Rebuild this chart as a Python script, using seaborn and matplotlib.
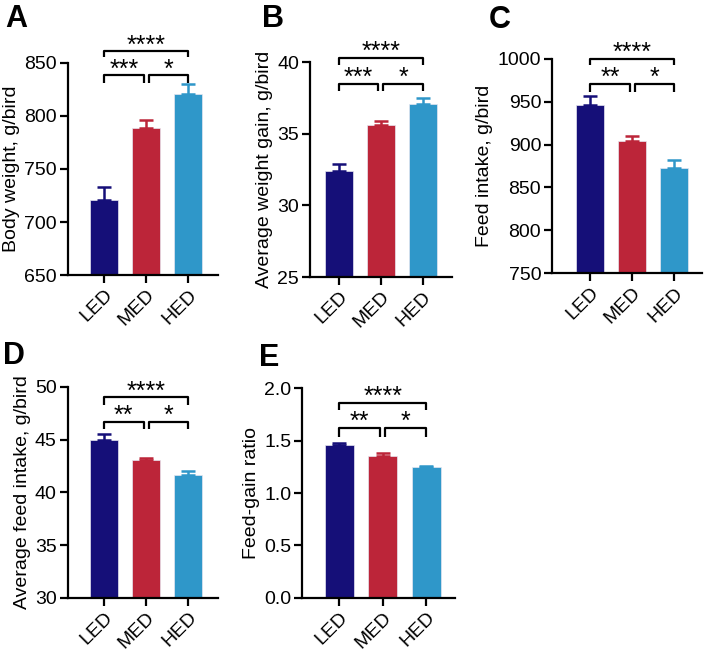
import matplotlib
matplotlib.use("Agg")
import matplotlib.pyplot as plt
import seaborn as sns
import pandas as pd
import numpy as np

groups = ["LED", "MED", "HED"]
colors = ["#150f78", "#bc2539", "#2f97c9"]

bw_mean = [721, 789, 821]
bw_err = [12, 7, 9]
awg_mean = [32.4, 35.6, 37.1]
awg_err = [0.5, 0.3, 0.4]
fi_mean = [946, 904, 873]
fi_err = [10, 6, 9]
afi_mean = [45.0, 43.1, 41.6]
afi_err = [0.5, 0.2, 0.4]
fgr_mean = [1.46, 1.35, 1.25]
fgr_err = [0.02, 0.03, 0.01]

sns.set_theme(style="ticks")
plt.rcParams['font.family'] = ['Liberation Sans', 'DejaVu Sans']
plt.rcParams['text.color'] = 'black'
plt.rcParams['axes.labelcolor'] = 'black'
plt.rcParams['xtick.color'] = 'black'
plt.rcParams['ytick.color'] = 'black'

fig = plt.figure(figsize=(7.08, 6.60), dpi=100)

panels = [
    dict(letter="A", rect=(0.096, 0.583, 0.212, 0.322), mean=bw_mean, err=bw_err,
         ylim=(650, 850), yticks=[650, 700, 750, 800, 850], ylabel="Body weight, g/bird",
         xlim=(-0.857, 2.71), stars=["****", "***", "*"],
         br_low=(838, 831), br_high=(861, 855), fmt="{:.0f}", letter_xy=(5, 27)),
    dict(letter="B", rect=(0.438, 0.580, 0.200, 0.326), mean=awg_mean, err=awg_err,
         ylim=(25, 40), yticks=[25, 30, 35, 40], ylabel="Average weight gain, g/bird",
         xlim=(-0.69, 2.69), stars=["****", "***", "*"],
         br_low=(38.5, 38.0), br_high=(40.3, 39.8), fmt="{:.0f}", letter_xy=(262, 27)),
    dict(letter="C", rect=(0.780, 0.586, 0.212, 0.325), mean=fi_mean, err=fi_err,
         ylim=(750, 1000), yticks=[750, 800, 850, 900, 950, 1000], ylabel="Feed intake, g/bird",
         xlim=(-0.905, 2.67), stars=["****", "**", "*"],
         br_low=(971, 961), br_high=(1000, 993), fmt="{:.0f}", letter_xy=(489, 28)),
    dict(letter="D", rect=(0.096, 0.094, 0.212, 0.320), mean=afi_mean, err=afi_err,
         ylim=(30, 50), yticks=[30, 35, 40, 45, 50], ylabel="Average feed intake, g/bird",
         xlim=(-0.857, 2.71), stars=["****", "**", "*"],
         br_low=(46.7, 46.0), br_high=(49.0, 48.3), fmt="{:.0f}", letter_xy=(3, 364)),
    dict(letter="E", rect=(0.427, 0.094, 0.216, 0.318), mean=fgr_mean, err=fgr_err,
         ylim=(0, 2.0), yticks=[0.0, 0.5, 1.0, 1.5, 2.0], ylabel="Feed-gain ratio",
         xlim=(-0.85, 2.67), stars=["****", "**", "*"],
         br_low=(1.62, 1.53), br_high=(1.86, 1.79), fmt="{:.1f}", letter_xy=(259, 366)),
]

for p in panels:
    ax = fig.add_axes(p["rect"])
    df = pd.DataFrame({"group": groups, "value": p["mean"]})
    sns.barplot(data=df, x="group", y="value", hue="group", palette=colors,
                order=groups, hue_order=groups, legend=False, width=0.67,
                saturation=1, errorbar=None, ax=ax, edgecolor="#e6e6f0", linewidth=0.5)
    for i, (m, e) in enumerate(zip(p["mean"], p["err"])):
        ax.errorbar(i, m, yerr=[[0], [e]], fmt="none", ecolor=colors[i],
                    elinewidth=1.8, capsize=5, capthick=1.8, zorder=1)
    ax.set_ylim(*p["ylim"])
    ax.set_xlim(*p["xlim"])
    ax.set_yticks(p["yticks"])
    ax.set_yticklabels([p["fmt"].format(v) for v in p["yticks"]], fontsize=14)
    ax.set_xticks(range(3))
    ax.set_xticklabels(groups, rotation=45, ha="right", rotation_mode="anchor", fontsize=14)
    ax.set_xlabel("")
    ax.set_ylabel(p["ylabel"], fontsize=14, labelpad=3)
    for s in ["top", "right"]:
        ax.spines[s].set_visible(False)
    for s in ["left", "bottom"]:
        ax.spines[s].set_linewidth(1.6)
        ax.spines[s].set_color("black")
    ax.tick_params(axis="both", width=1.6, length=6, color="black", pad=2)
    ax.set_facecolor("none")

    # brackets
    lo_top, lo_leg = p["br_low"]
    hi_top, hi_leg = p["br_high"]
    kw = dict(color="black", lw=1.6, clip_on=False, solid_capstyle="butt")
    ax.plot([0, 0, 2, 2], [hi_leg, hi_top, hi_top, hi_leg], **kw)
    ax.plot([0, 0, 0.94, 0.94], [lo_leg, lo_top, lo_top, lo_leg], **kw)
    ax.plot([1.06, 1.06, 2, 2], [lo_leg, lo_top, lo_top, lo_leg], **kw)
    tkw = dict(ha="center", va="baseline", fontsize=18, textcoords="offset points",
               xytext=(0, -1), annotation_clip=False)
    ax.annotate(p["stars"][0], (1, hi_top), **tkw)
    ax.annotate(p["stars"][1], (0.47, lo_top), **tkw)
    ax.annotate(p["stars"][2], (1.53, lo_top), **tkw)

    lx, ly = p["letter_xy"]
    fig.text(lx / 708, 1 - ly / 660, p["letter"], fontsize=22, fontweight="bold",
             ha="left", va="baseline")

fig.savefig("out.png", dpi=100)
